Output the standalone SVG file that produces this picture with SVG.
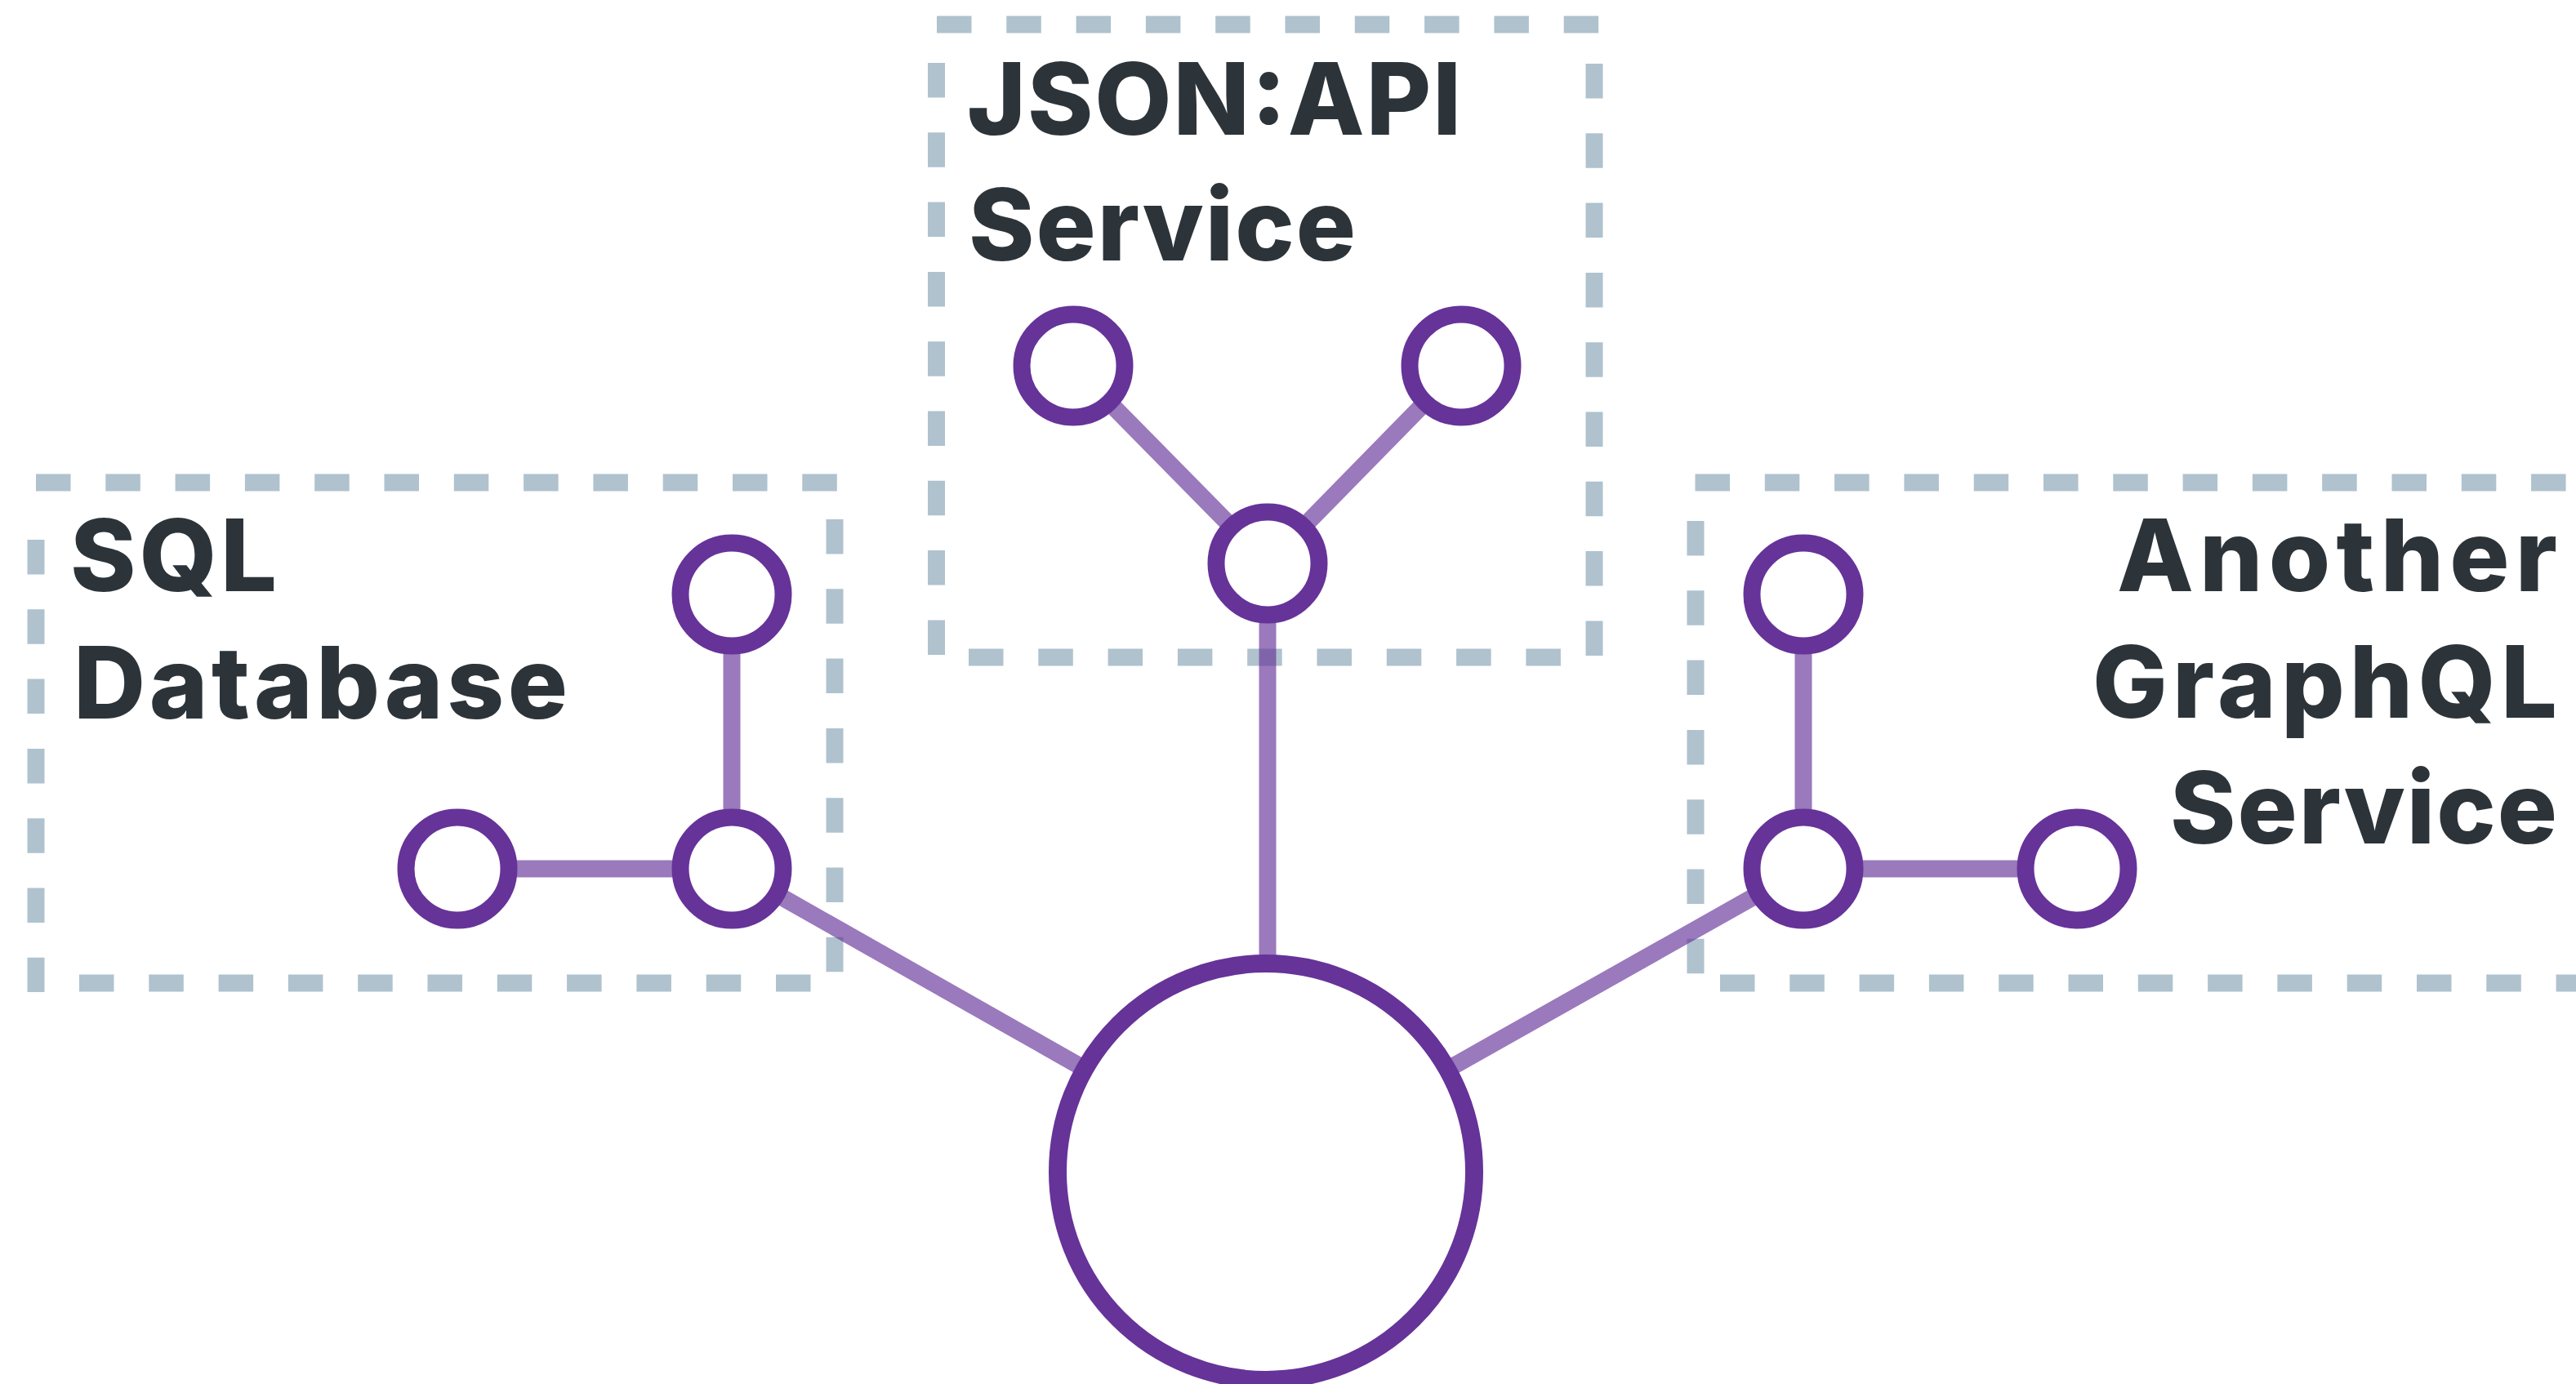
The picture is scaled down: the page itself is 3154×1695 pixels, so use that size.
<svg xmlns="http://www.w3.org/2000/svg" width="3154" height="1695" viewBox="0 0 3154 1695">
<style>
.dash{fill:none;stroke:#afc2ce;stroke-width:21;stroke-dasharray:42.5 42.8}
.edge{stroke:#663399;stroke-opacity:0.66;stroke-width:21;fill:none}
.node{fill:#ffffff;stroke:#663399;stroke-width:21}
.big{fill:#ffffff;stroke:#663399;stroke-width:22}
.lbl{font-family:Inter,"Open Sans","Liberation Sans",sans-serif;font-weight:800;font-size:122px;fill:#2d3439}
</style>
<rect width="3154" height="1695" fill="#ffffff"/>
<g id="box-json">
<line class="dash" x1="1147" y1="30" x2="1963" y2="30"/>
<line class="dash" x1="1146.5" y1="77" x2="1146.5" y2="810"/>
<line class="dash" x1="1952" y1="78" x2="1952" y2="810"/>
<line class="dash" x1="1186" y1="805" x2="1920" y2="805"/>
<text class="lbl" x="1184" y="165" textLength="605" lengthAdjust="spacing">JSON:API</text>
<text class="lbl" x="1186" y="319" textLength="474" lengthAdjust="spacing">Service</text>
</g>
<g id="box-sql">
<line class="dash" x1="44" y1="591" x2="1033" y2="591"/>
<line class="dash" x1="44" y1="661" x2="44" y2="1215"/>
<line class="dash" x1="1022" y1="636" x2="1022" y2="1195"/>
<line class="dash" x1="97" y1="1204" x2="995" y2="1204"/>
<text class="lbl" x="86" y="724" textLength="253" lengthAdjust="spacing">SQL</text>
<text class="lbl" x="90" y="880" textLength="605" lengthAdjust="spacing">Database</text>
</g>
<g id="box-graphql">
<line class="dash" x1="2075.5" y1="591" x2="3154" y2="591"/>
<line class="dash" x1="2076" y1="638" x2="2076" y2="1195"/>
<line class="dash" x1="2106" y1="1204" x2="3154" y2="1204"/>
<text class="lbl" x="2592" y="724" textLength="539" lengthAdjust="spacing">Another</text>
<text class="lbl" x="2562" y="879" textLength="569" lengthAdjust="spacing">GraphQL</text>
<text class="lbl" x="2657" y="1033" textLength="474" lengthAdjust="spacing">Service</text>
</g>
<g id="connectors">
<line class="edge" x1="1314" y1="448" x2="1552" y2="690"/>
<line class="edge" x1="1789" y1="448" x2="1552" y2="690"/>
<line class="edge" x1="1552" y1="690" x2="1552" y2="1180"/>
<line class="edge" x1="896" y1="728" x2="896" y2="1064"/>
<line class="edge" x1="560" y1="1064" x2="896" y2="1064"/>
<line class="edge" x1="896" y1="1064" x2="1550" y2="1435"/>
<line class="edge" x1="2208" y1="728" x2="2208" y2="1064"/>
<line class="edge" x1="2208" y1="1064" x2="2543" y2="1064"/>
<line class="edge" x1="2208" y1="1064" x2="1550" y2="1435"/>
</g>
<g id="node-json-left"><circle class="node" cx="1314" cy="448" r="63"/></g>
<g id="node-json-right"><circle class="node" cx="1789" cy="448" r="63"/></g>
<g id="node-json-hub"><circle class="node" cx="1552" cy="690" r="63"/></g>
<g id="node-sql-top"><circle class="node" cx="896" cy="728" r="63"/></g>
<g id="node-sql-hub"><circle class="node" cx="896" cy="1064" r="63"/></g>
<g id="node-sql-left"><circle class="node" cx="560" cy="1064" r="63"/></g>
<g id="node-gql-top"><circle class="node" cx="2208" cy="728" r="63"/></g>
<g id="node-gql-hub"><circle class="node" cx="2208" cy="1064" r="63"/></g>
<g id="node-gql-right"><circle class="node" cx="2543" cy="1064" r="63"/></g>
<g id="node-root"><circle class="big" cx="1550" cy="1435" r="255"/></g>
</svg>
